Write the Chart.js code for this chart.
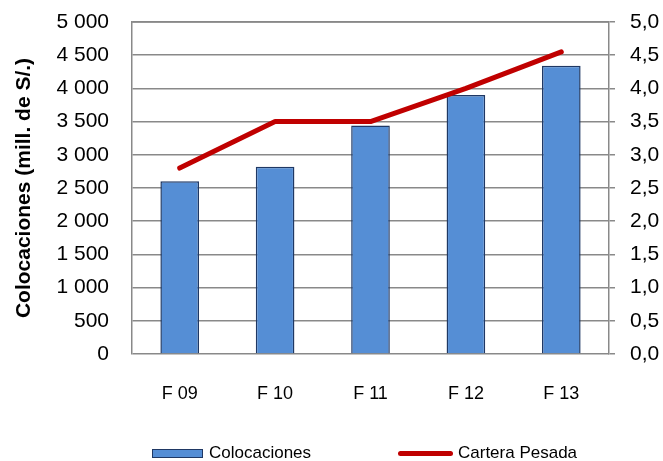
<!DOCTYPE html>
<html>
<head>
<meta charset="utf-8">
<script src="https://cdn.jsdelivr.net/npm/chart.js@4/dist/chart.umd.min.js"></script>
<style>
  html, body { margin: 0; padding: 0; background: #fff; }
  #wrap { position: relative; width: 663px; height: 461px; }
  #legend { position: absolute; left: 0; top: 443px; width: 663px; height: 20px;
            font-family: "Liberation Sans", Arial, sans-serif; font-size: 17px; color: #000; }
  .item { position: absolute; top: 0; line-height: 20px; white-space: nowrap; }
  .swatch { position: absolute; }
</style>
</head>
<body>
<div id="wrap">
  <canvas id="chart" width="663" height="461"></canvas>
  <div id="legend"></div>
</div>
<script>
// data
const categories = ['F 09', 'F 10', 'F 11', 'F 12', 'F 13'];
const colocaciones = [2600, 2820, 3440, 3900, 4340];      // mill. de S/.
const carteraPesada = [2.8, 3.5, 3.5, 4.0, 4.55];         // %
const leftTicks = [0, 500, 1000, 1500, 2000, 2500, 3000, 3500, 4000, 4500, 5000];
const rightTicks = [0, 0.5, 1, 1.5, 2, 2.5, 3, 3.5, 4, 4.5, 5];

const FONT = '"Liberation Sans", Arial, sans-serif';
const GRID = '#898989';
const BAR_FILL = '#558ED5';
const BAR_EDGE = '#1F3864';
const RED = '#C00000';

function fmtThousands(v){ return String(v).replace(/\B(?=(\d{3})+(?!\d))/g, ' '); }
function fmtComma(v){ return v.toFixed(1).replace('.', ','); }

const ctx = document.getElementById('chart').getContext('2d');
const chart = new Chart(ctx, {
  data: {
    labels: categories,
    datasets: [
      {
        type: 'line', label: 'Cartera Pesada', data: carteraPesada, yAxisID: 'y1',
        borderColor: RED, backgroundColor: RED, borderWidth: 5,
        borderCapStyle: 'round', borderJoinStyle: 'round',
        pointRadius: 0, tension: 0, order: 0
      },
      {
        type: 'bar', label: 'Colocaciones', data: colocaciones, yAxisID: 'y',
        backgroundColor: BAR_FILL, borderColor: BAR_EDGE, borderWidth: 1.5,
        categoryPercentage: 1, barPercentage: 0.405, order: 1
      }
    ]
  },
  options: {
    responsive: false,
    animation: false,
    layout: { padding: { top: 22, left: 0, right: 0, bottom: 0 } },
    plugins: { legend: { display: false }, tooltip: { enabled: false } },
    scales: {
      x: {
        grid: { display: false },
        border: { display: false },
        ticks: { color: '#000', font: { family: FONT, size: 18 }, padding: 21 },
        afterFit: s => { s.height = 107; s.paddingLeft = 0; s.paddingRight = 0; }
      },
      y: {
        position: 'left', min: 0, max: 5000,
        afterBuildTicks: s => { s.ticks = leftTicks.map(v => ({ value: v })); },
        grid: { color: GRID, lineWidth: 1.5, drawTicks: false },
        border: { color: GRID, width: 1.5 },
        ticks: { color: '#000', font: { family: FONT, size: 21 }, padding: 23,
                 callback: v => fmtThousands(v) },
        title: { display: true, text: 'Colocaciones (mill. de S/.)', color: '#000',
                 font: { family: FONT, size: 21, weight: 'bold' }, padding: { top: 12, bottom: 0 } },
        afterFit: s => { s.width = 132; s.paddingTop = 0; s.paddingBottom = 0; }
      },
      y1: {
        position: 'right', min: 0, max: 5,
        afterBuildTicks: s => { s.ticks = rightTicks.map(v => ({ value: v })); },
        grid: { drawOnChartArea: false, color: GRID, lineWidth: 1.5, tickLength: 6 },
        border: { color: GRID, width: 1.5 },
        ticks: { color: '#000', font: { family: FONT, size: 21 }, padding: 15,
                 callback: v => fmtComma(v) },
        afterFit: s => { s.width = 54; s.paddingTop = 0; s.paddingBottom = 0; }
      }
    }
  },
  plugins: [{
    // top border of the plot area
    id: 'topBorder',
    afterDatasetsDraw(c) {
      const a = c.chartArea, g = c.ctx;
      g.save();
      g.strokeStyle = GRID; g.lineWidth = 1.5;
      g.beginPath(); g.moveTo(a.left, a.top); g.lineTo(a.right, a.top); g.stroke();
      g.restore();
    }
  }]
});

// ---------- HTML legend ----------
const legend = document.getElementById('legend');
legend.innerHTML = `
  <div class="swatch" style="left:152px;top:6px;width:49px;height:7px;background:${BAR_FILL};border:1.5px solid ${BAR_EDGE}"></div>
  <div class="item" style="left:209px">Colocaciones</div>
  <div class="swatch" style="left:398px;top:8px;width:55px;height:5px;background:${RED};border-radius:3px"></div>
  <div class="item" style="left:458px">Cartera Pesada</div>
`;
</script>
</body>
</html>
